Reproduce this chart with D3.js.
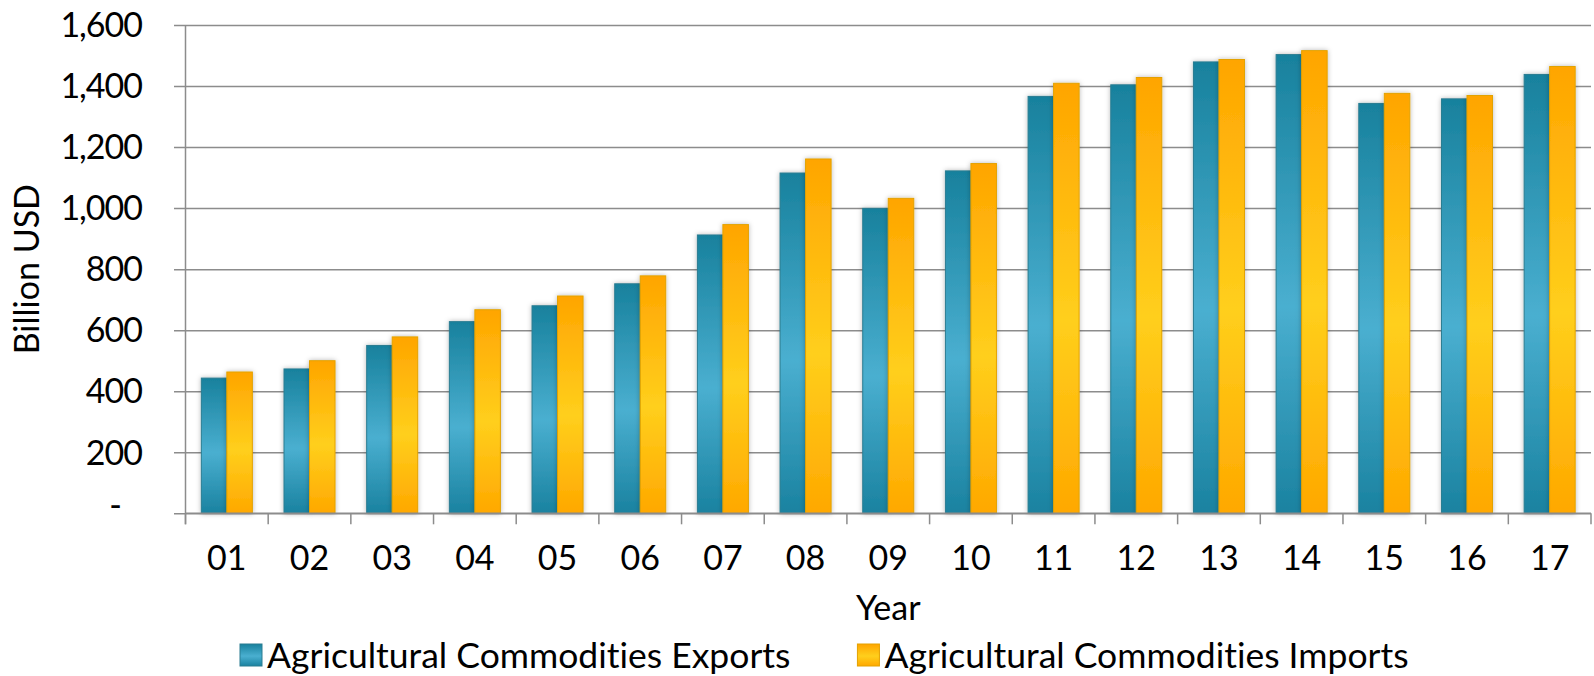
<!DOCTYPE html>
<html>
<head>
<meta charset="utf-8">
<script src="https://cdn.jsdelivr.net/npm/d3@7"></script>
<style>
  html, body { margin: 0; padding: 0; background: #fff; }
  svg { display: block; }
  text { font-family: Lato, "Open Sans", sans-serif; fill: #000; font-variant-ligatures: none; }
</style>
</head>
<body>
<svg id="chart" width="1594" height="676"></svg>
<script>
// Agricultural commodities trade, billion USD
const years = ["01","02","03","04","05","06","07","08","09","10","11","12","13","14","15","16","17"];
const exportsValues = [443, 473, 550, 628, 680, 752, 912, 1115, 999, 1122, 1366, 1404, 1479, 1503, 1343, 1358, 1438];
const importsValues = [463, 500, 578, 667, 712, 778, 946, 1161, 1032, 1146, 1409, 1428, 1487, 1516, 1376, 1369, 1464];
const seriesNames = ["Agricultural Commodities Exports", "Agricultural Commodities Imports"];
const yTicks = [0, 200, 400, 600, 800, 1000, 1200, 1400, 1600];
const yTitle = "Billion USD";
const xTitle = "Year";

const W = 1594, H = 676;
const margin = { left: 185.5, right: 3, top: 25, bottom: 162.7 };
const svg = d3.select("#chart");

const defs = svg.append("defs");
function grad(id, stops) {
  const g = defs.append("linearGradient").attr("id", id)
    .attr("x1", 0).attr("y1", 0).attr("x2", 0).attr("y2", 1);
  stops.forEach(([o, c]) => g.append("stop").attr("offset", o).attr("stop-color", c));
}
grad("gExp", [["0%", "#18819d"], ["55%", "#4aafd0"], ["100%", "#1a82a0"]]);
grad("gImp", [["0%", "#ffa500"], ["55%", "#ffcf1c"], ["100%", "#ffa800"]]);
const sh = defs.append("filter").attr("id", "shadow")
  .attr("x", "-50%").attr("y", "-10%").attr("width", "200%").attr("height", "120%");
sh.append("feDropShadow").attr("dx", 0).attr("dy", 0).attr("stdDeviation", 2.5)
  .attr("flood-color", "#000").attr("flood-opacity", 0.28);

const x0 = W - margin.right;
const y0 = H - margin.bottom;

const x = d3.scaleBand().domain(years).range([margin.left, x0]).paddingInner(0).paddingOuter(0);
const xs = d3.scaleBand().domain([0, 1]).range([0, x.bandwidth()]).paddingInner(0).paddingOuter(0.62);
const y = d3.scaleLinear().domain([0, 1600]).range([y0, margin.top]);

const gridColor = "#8c8c8c";

// horizontal gridlines with short ticks left of the axis
svg.append("g")
  .attr("transform", `translate(${x0},0)`)
  .call(d3.axisLeft(y).tickValues(yTicks).tickSize(x0 - margin.left + 11.5).tickFormat(""))
  .call(g => g.select(".domain").remove())
  .call(g => g.selectAll("line").attr("stroke", gridColor).attr("stroke-width", 1.5));

// y tick labels
const fmt = d3.format(",");
svg.append("g")
  .selectAll("text").data(yTicks).join("text")
  .attr("x", d => d === 0 ? 121 : 142)
  .attr("y", d => y(d))
  .attr("dy", d => d === 0 ? "0.1em" : "0.36em")
  .attr("text-anchor", "end")
  .attr("font-size", 34)
  .attr("letter-spacing", -1)
  .text(d => d === 0 ? "-" : fmt(d));

// bars
const data = years.map((yr, i) => ({ yr, vals: [exportsValues[i], importsValues[i]] }));
const groups = svg.append("g").selectAll("g").data(data).join("g")
  .attr("transform", d => `translate(${x(d.yr)},0)`);
groups.selectAll("rect").data(d => d.vals.map((v, k) => ({ v, k }))).join("rect")
  .attr("x", d => xs(d.k))
  .attr("y", d => y(d.v))
  .attr("width", xs.bandwidth())
  .attr("height", d => y0 - y(d.v))
  .attr("fill", d => d.k === 0 ? "url(#gExp)" : "url(#gImp)")
  .attr("stroke", d => d.k === 0 ? "#2a7c91" : "#e3a200")
  .attr("stroke-width", 1)
  .attr("filter", "url(#shadow)");

// y axis line
svg.append("line")
  .attr("x1", margin.left).attr("x2", margin.left)
  .attr("y1", margin.top).attr("y2", y0 + 11)
  .attr("stroke", gridColor).attr("stroke-width", 1.5);

// x axis with tick marks at band boundaries
const bounds = years.map(d => x(d)).concat([x0]);
svg.append("line")
  .attr("x1", margin.left).attr("x2", x0).attr("y1", y0).attr("y2", y0)
  .attr("stroke", gridColor).attr("stroke-width", 1.5);
svg.append("g").selectAll("line").data(bounds).join("line")
  .attr("x1", d => d).attr("x2", d => d).attr("y1", y0).attr("y2", y0 + 11)
  .attr("stroke", gridColor).attr("stroke-width", 1.5);

// x labels
svg.append("g").selectAll("text").data(years).join("text")
  .attr("x", d => x(d) + x.bandwidth() / 2)
  .attr("y", 570)
  .attr("text-anchor", "middle")
  .attr("font-size", 34)
  .text(d => d);

// axis titles
svg.append("text")
  .attr("x", (margin.left + x0) / 2).attr("y", 620)
  .attr("text-anchor", "middle").attr("font-size", 34)
  .text(xTitle);
svg.append("text")
  .attr("transform", `translate(39,${(margin.top + y0) / 2}) rotate(-90)`)
  .attr("text-anchor", "middle").attr("font-size", 34)
  .text(yTitle);

// legend
const legend = svg.append("g");
let lx = 240;
seriesNames.forEach((name, k) => {
  legend.append("rect")
    .attr("x", lx).attr("y", 644).attr("width", 22).attr("height", 22)
    .attr("fill", k === 0 ? "url(#gExp)" : "url(#gImp)")
    .attr("stroke", k === 0 ? "#2a7c91" : "#e3a200").attr("stroke-width", 1);
  const t = legend.append("text")
    .attr("x", lx + 27).attr("y", 668)
    .attr("font-size", 35.5)
    .text(name);
  lx = lx + 27 + t.node().getComputedTextLength() + 67;
});
</script>
</body>
</html>
